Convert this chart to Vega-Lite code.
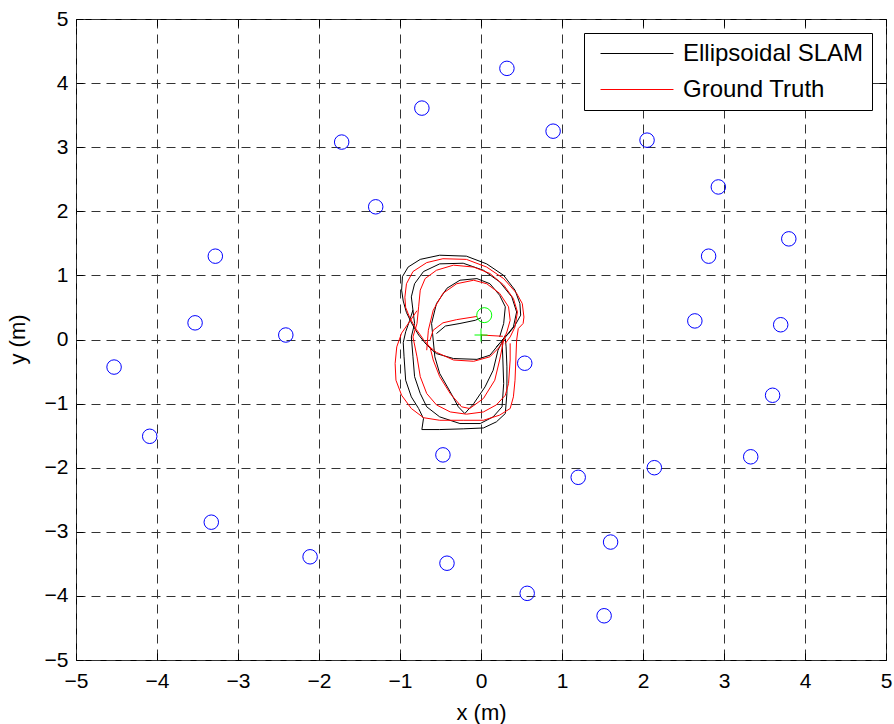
{
  "$schema": "https://vega.github.io/schema/vega-lite/v6.json",
  "width": 810,
  "height": 641,
  "autosize": {"type": "none"},
  "padding": {"left": 76, "top": 19, "right": 8, "bottom": 64},
  "background": "white",
  "config": {
    "view": {"stroke": "#000000", "strokeWidth": 1},
    "font": "Liberation Sans"
  },
  "datasets": {
    "traj": [
      {"s":"Ellipsoidal SLAM","g":"b1","i":0,"x":-0.60,"y":-0.17},
      {"s":"Ellipsoidal SLAM","g":"b1","i":1,"x":-0.68,"y":-0.07},
      {"s":"Ellipsoidal SLAM","g":"b1","i":2,"x":-0.77,"y":0.07},
      {"s":"Ellipsoidal SLAM","g":"b1","i":3,"x":-0.85,"y":0.24},
      {"s":"Ellipsoidal SLAM","g":"b1","i":4,"x":-0.92,"y":0.42},
      {"s":"Ellipsoidal SLAM","g":"b1","i":5,"x":-0.96,"y":0.60},
      {"s":"Ellipsoidal SLAM","g":"b1","i":6,"x":-0.98,"y":0.77},
      {"s":"Ellipsoidal SLAM","g":"b1","i":7,"x":-0.97,"y":0.98},
      {"s":"Ellipsoidal SLAM","g":"b1","i":8,"x":-0.90,"y":1.13},
      {"s":"Ellipsoidal SLAM","g":"b1","i":9,"x":-0.75,"y":1.25},
      {"s":"Ellipsoidal SLAM","g":"b1","i":10,"x":-0.51,"y":1.315},
      {"s":"Ellipsoidal SLAM","g":"b1","i":11,"x":-0.18,"y":1.30},
      {"s":"Ellipsoidal SLAM","g":"b1","i":12,"x":0.07,"y":1.18},
      {"s":"Ellipsoidal SLAM","g":"b1","i":13,"x":0.28,"y":1.00},
      {"s":"Ellipsoidal SLAM","g":"b1","i":14,"x":0.42,"y":0.77},
      {"s":"Ellipsoidal SLAM","g":"b1","i":15,"x":0.48,"y":0.56},
      {"s":"Ellipsoidal SLAM","g":"b1","i":16,"x":0.49,"y":0.38},
      {"s":"Ellipsoidal SLAM","g":"b1","i":17,"x":0.42,"y":0.22},
      {"s":"Ellipsoidal SLAM","g":"b1","i":18,"x":0.34,"y":0.09},
      {"s":"Ellipsoidal SLAM","g":"b1","i":19,"x":0.26,"y":-0.01},
      {"s":"Ellipsoidal SLAM","g":"b2","i":0,"x":-0.84,"y":0.46},
      {"s":"Ellipsoidal SLAM","g":"b2","i":1,"x":-0.88,"y":0.30},
      {"s":"Ellipsoidal SLAM","g":"b2","i":2,"x":-0.93,"y":0.12},
      {"s":"Ellipsoidal SLAM","g":"b2","i":3,"x":-0.96,"y":-0.05},
      {"s":"Ellipsoidal SLAM","g":"b2","i":4,"x":-0.95,"y":-0.27},
      {"s":"Ellipsoidal SLAM","g":"b2","i":5,"x":-0.93,"y":-0.635},
      {"s":"Ellipsoidal SLAM","g":"b2","i":6,"x":-0.86,"y":-0.895},
      {"s":"Ellipsoidal SLAM","g":"b2","i":7,"x":-0.77,"y":-1.077},
      {"s":"Ellipsoidal SLAM","g":"b2","i":8,"x":-0.71,"y":-1.233},
      {"s":"Ellipsoidal SLAM","g":"b2","i":9,"x":-0.73,"y":-1.405},
      {"s":"Ellipsoidal SLAM","g":"b2","i":10,"x":-0.51,"y":-1.405},
      {"s":"Ellipsoidal SLAM","g":"b2","i":11,"x":-0.22,"y":-1.394},
      {"s":"Ellipsoidal SLAM","g":"b2","i":12,"x":0.03,"y":-1.38},
      {"s":"Ellipsoidal SLAM","g":"b2","i":13,"x":0.19,"y":-1.285},
      {"s":"Ellipsoidal SLAM","g":"b2","i":14,"x":0.30,"y":-1.155},
      {"s":"Ellipsoidal SLAM","g":"b2","i":15,"x":0.32,"y":-0.843},
      {"s":"Ellipsoidal SLAM","g":"b2","i":16,"x":0.32,"y":-0.427},
      {"s":"Ellipsoidal SLAM","g":"b2","i":17,"x":0.31,"y":-0.115},
      {"s":"Ellipsoidal SLAM","g":"b2","i":18,"x":0.30,"y":0.015},
      {"s":"Ellipsoidal SLAM","g":"b3","i":0,"x":-0.86,"y":0.04},
      {"s":"Ellipsoidal SLAM","g":"b3","i":1,"x":-0.82,"y":0.25},
      {"s":"Ellipsoidal SLAM","g":"b3","i":2,"x":-0.84,"y":0.457},
      {"s":"Ellipsoidal SLAM","g":"b3","i":3,"x":-0.86,"y":0.665},
      {"s":"Ellipsoidal SLAM","g":"b3","i":4,"x":-0.82,"y":0.87},
      {"s":"Ellipsoidal SLAM","g":"b3","i":5,"x":-0.71,"y":1.06},
      {"s":"Ellipsoidal SLAM","g":"b3","i":6,"x":-0.51,"y":1.18},
      {"s":"Ellipsoidal SLAM","g":"b3","i":7,"x":-0.22,"y":1.19},
      {"s":"Ellipsoidal SLAM","g":"b3","i":8,"x":0.03,"y":1.08},
      {"s":"Ellipsoidal SLAM","g":"b3","i":9,"x":0.23,"y":0.90},
      {"s":"Ellipsoidal SLAM","g":"b3","i":10,"x":0.38,"y":0.665},
      {"s":"Ellipsoidal SLAM","g":"b3","i":11,"x":0.44,"y":0.43},
      {"s":"Ellipsoidal SLAM","g":"b3","i":12,"x":0.40,"y":0.197},
      {"s":"Ellipsoidal SLAM","g":"b3","i":13,"x":0.30,"y":0.04},
      {"s":"Ellipsoidal SLAM","g":"b3","i":14,"x":0.19,"y":-0.115},
      {"s":"Ellipsoidal SLAM","g":"b4","i":0,"x":-0.86,"y":0.04},
      {"s":"Ellipsoidal SLAM","g":"b4","i":1,"x":-0.84,"y":-0.27},
      {"s":"Ellipsoidal SLAM","g":"b4","i":2,"x":-0.82,"y":-0.58},
      {"s":"Ellipsoidal SLAM","g":"b4","i":3,"x":-0.75,"y":-0.843},
      {"s":"Ellipsoidal SLAM","g":"b4","i":4,"x":-0.67,"y":-1.05},
      {"s":"Ellipsoidal SLAM","g":"b4","i":5,"x":-0.51,"y":-1.207},
      {"s":"Ellipsoidal SLAM","g":"b4","i":6,"x":-0.26,"y":-1.311},
      {"s":"Ellipsoidal SLAM","g":"b4","i":7,"x":-0.01,"y":-1.311},
      {"s":"Ellipsoidal SLAM","g":"b4","i":8,"x":0.15,"y":-1.207},
      {"s":"Ellipsoidal SLAM","g":"b4","i":9,"x":0.26,"y":-1.05},
      {"s":"Ellipsoidal SLAM","g":"b4","i":10,"x":0.28,"y":-0.687},
      {"s":"Ellipsoidal SLAM","g":"b4","i":11,"x":0.27,"y":-0.32},
      {"s":"Ellipsoidal SLAM","g":"b4","i":12,"x":0.26,"y":-0.01},
      {"s":"Ellipsoidal SLAM","g":"b5","i":0,"x":-0.59,"y":-0.01},
      {"s":"Ellipsoidal SLAM","g":"b5","i":1,"x":-0.61,"y":0.25},
      {"s":"Ellipsoidal SLAM","g":"b5","i":2,"x":-0.55,"y":0.56},
      {"s":"Ellipsoidal SLAM","g":"b5","i":3,"x":-0.42,"y":0.80},
      {"s":"Ellipsoidal SLAM","g":"b5","i":4,"x":-0.26,"y":0.925},
      {"s":"Ellipsoidal SLAM","g":"b5","i":5,"x":-0.05,"y":0.95},
      {"s":"Ellipsoidal SLAM","g":"b5","i":6,"x":0.11,"y":0.87},
      {"s":"Ellipsoidal SLAM","g":"b5","i":7,"x":0.23,"y":0.69},
      {"s":"Ellipsoidal SLAM","g":"b5","i":8,"x":0.30,"y":0.51},
      {"s":"Ellipsoidal SLAM","g":"b5","i":9,"x":0.28,"y":0.25},
      {"s":"Ellipsoidal SLAM","g":"b5","i":10,"x":0.23,"y":0.04},
      {"s":"Ellipsoidal SLAM","g":"b6","i":0,"x":0.30,"y":0.067},
      {"s":"Ellipsoidal SLAM","g":"b6","i":1,"x":0.21,"y":-0.167},
      {"s":"Ellipsoidal SLAM","g":"b6","i":2,"x":0.15,"y":-0.48},
      {"s":"Ellipsoidal SLAM","g":"b6","i":3,"x":0.05,"y":-0.739},
      {"s":"Ellipsoidal SLAM","g":"b6","i":4,"x":-0.09,"y":-1.0},
      {"s":"Ellipsoidal SLAM","g":"b6","i":5,"x":-0.20,"y":-1.155},
      {"s":"Ellipsoidal SLAM","g":"b6","i":6,"x":-0.28,"y":-1.05},
      {"s":"Ellipsoidal SLAM","g":"b6","i":7,"x":-0.38,"y":-0.817},
      {"s":"Ellipsoidal SLAM","g":"b6","i":8,"x":-0.51,"y":-0.53},
      {"s":"Ellipsoidal SLAM","g":"b6","i":9,"x":-0.57,"y":-0.27},
      {"s":"Ellipsoidal SLAM","g":"b6","i":10,"x":-0.59,"y":-0.01},
      {"s":"Ellipsoidal SLAM","g":"b7","i":0,"x":-0.60,"y":-0.17},
      {"s":"Ellipsoidal SLAM","g":"b7","i":1,"x":-0.55,"y":-0.22},
      {"s":"Ellipsoidal SLAM","g":"b7","i":2,"x":-0.34,"y":-0.297},
      {"s":"Ellipsoidal SLAM","g":"b7","i":3,"x":-0.05,"y":-0.31},
      {"s":"Ellipsoidal SLAM","g":"b7","i":4,"x":0.11,"y":-0.245},
      {"s":"Ellipsoidal SLAM","g":"b7","i":5,"x":0.23,"y":-0.06},
      {"s":"Ellipsoidal SLAM","g":"b8","i":0,"x":-0.55,"y":0.093},
      {"s":"Ellipsoidal SLAM","g":"b8","i":1,"x":-0.44,"y":0.21},
      {"s":"Ellipsoidal SLAM","g":"b8","i":2,"x":-0.26,"y":0.25},
      {"s":"Ellipsoidal SLAM","g":"b8","i":3,"x":-0.07,"y":0.30},
      {"s":"Ellipsoidal SLAM","g":"b8","i":4,"x":0.0,"y":0.34},
      {"s":"Ground Truth","g":"r1","i":0,"x":-0.63,"y":-0.12},
      {"s":"Ground Truth","g":"r1","i":1,"x":-0.71,"y":0.0},
      {"s":"Ground Truth","g":"r1","i":2,"x":-0.80,"y":0.16},
      {"s":"Ground Truth","g":"r1","i":3,"x":-0.88,"y":0.34},
      {"s":"Ground Truth","g":"r1","i":4,"x":-0.93,"y":0.50},
      {"s":"Ground Truth","g":"r1","i":5,"x":-0.94,"y":0.66},
      {"s":"Ground Truth","g":"r1","i":6,"x":-0.92,"y":0.87},
      {"s":"Ground Truth","g":"r1","i":7,"x":-0.84,"y":1.06},
      {"s":"Ground Truth","g":"r1","i":8,"x":-0.67,"y":1.20},
      {"s":"Ground Truth","g":"r1","i":9,"x":-0.47,"y":1.26},
      {"s":"Ground Truth","g":"r1","i":10,"x":-0.18,"y":1.25},
      {"s":"Ground Truth","g":"r1","i":11,"x":0.07,"y":1.13},
      {"s":"Ground Truth","g":"r1","i":12,"x":0.28,"y":0.95},
      {"s":"Ground Truth","g":"r1","i":13,"x":0.44,"y":0.72},
      {"s":"Ground Truth","g":"r1","i":14,"x":0.51,"y":0.56},
      {"s":"Ground Truth","g":"r1","i":15,"x":0.53,"y":0.35},
      {"s":"Ground Truth","g":"r1","i":16,"x":0.52,"y":0.25},
      {"s":"Ground Truth","g":"r1","i":17,"x":0.46,"y":0.17},
      {"s":"Ground Truth","g":"r1","i":18,"x":0.44,"y":-0.01},
      {"s":"Ground Truth","g":"r2","i":0,"x":-0.79,"y":0.45},
      {"s":"Ground Truth","g":"r2","i":1,"x":-0.87,"y":0.30},
      {"s":"Ground Truth","g":"r2","i":2,"x":-0.98,"y":0.10},
      {"s":"Ground Truth","g":"r2","i":3,"x":-1.04,"y":-0.115},
      {"s":"Ground Truth","g":"r2","i":4,"x":-1.06,"y":-0.375},
      {"s":"Ground Truth","g":"r2","i":5,"x":-1.05,"y":-0.635},
      {"s":"Ground Truth","g":"r2","i":6,"x":-0.98,"y":-0.87},
      {"s":"Ground Truth","g":"r2","i":7,"x":-0.86,"y":-1.077},
      {"s":"Ground Truth","g":"r2","i":8,"x":-0.71,"y":-1.22},
      {"s":"Ground Truth","g":"r2","i":9,"x":-0.51,"y":-1.26},
      {"s":"Ground Truth","g":"r2","i":10,"x":-0.22,"y":-1.26},
      {"s":"Ground Truth","g":"r2","i":11,"x":0.03,"y":-1.26},
      {"s":"Ground Truth","g":"r2","i":12,"x":0.23,"y":-1.18},
      {"s":"Ground Truth","g":"r2","i":13,"x":0.36,"y":-1.077},
      {"s":"Ground Truth","g":"r2","i":14,"x":0.40,"y":-0.895},
      {"s":"Ground Truth","g":"r2","i":15,"x":0.42,"y":-0.635},
      {"s":"Ground Truth","g":"r2","i":16,"x":0.43,"y":-0.32},
      {"s":"Ground Truth","g":"r2","i":17,"x":0.44,"y":-0.01},
      {"s":"Ground Truth","g":"r3","i":0,"x":-0.84,"y":0.04},
      {"s":"Ground Truth","g":"r3","i":1,"x":-0.79,"y":0.25},
      {"s":"Ground Truth","g":"r3","i":2,"x":-0.77,"y":0.51},
      {"s":"Ground Truth","g":"r3","i":3,"x":-0.75,"y":0.77},
      {"s":"Ground Truth","g":"r3","i":4,"x":-0.69,"y":0.95},
      {"s":"Ground Truth","g":"r3","i":5,"x":-0.55,"y":1.08},
      {"s":"Ground Truth","g":"r3","i":6,"x":-0.34,"y":1.16},
      {"s":"Ground Truth","g":"r3","i":7,"x":-0.09,"y":1.13},
      {"s":"Ground Truth","g":"r3","i":8,"x":0.11,"y":1.03},
      {"s":"Ground Truth","g":"r3","i":9,"x":0.28,"y":0.85},
      {"s":"Ground Truth","g":"r3","i":10,"x":0.40,"y":0.64},
      {"s":"Ground Truth","g":"r3","i":11,"x":0.45,"y":0.43},
      {"s":"Ground Truth","g":"r3","i":12,"x":0.42,"y":0.197},
      {"s":"Ground Truth","g":"r3","i":13,"x":0.36,"y":0.04},
      {"s":"Ground Truth","g":"r3","i":14,"x":0.30,"y":-0.06},
      {"s":"Ground Truth","g":"r4","i":0,"x":-0.84,"y":0.04},
      {"s":"Ground Truth","g":"r4","i":1,"x":-0.79,"y":-0.27},
      {"s":"Ground Truth","g":"r4","i":2,"x":-0.75,"y":-0.58},
      {"s":"Ground Truth","g":"r4","i":3,"x":-0.67,"y":-0.843},
      {"s":"Ground Truth","g":"r4","i":4,"x":-0.55,"y":-1.02},
      {"s":"Ground Truth","g":"r4","i":5,"x":-0.38,"y":-1.13},
      {"s":"Ground Truth","g":"r4","i":6,"x":-0.18,"y":-1.165},
      {"s":"Ground Truth","g":"r4","i":7,"x":0.03,"y":-1.13},
      {"s":"Ground Truth","g":"r4","i":8,"x":0.19,"y":-1.02},
      {"s":"Ground Truth","g":"r4","i":9,"x":0.30,"y":-0.87},
      {"s":"Ground Truth","g":"r4","i":10,"x":0.34,"y":-0.687},
      {"s":"Ground Truth","g":"r4","i":11,"x":0.36,"y":-0.32},
      {"s":"Ground Truth","g":"r4","i":12,"x":0.36,"y":-0.06},
      {"s":"Ground Truth","g":"r5","i":0,"x":-0.67,"y":-0.167},
      {"s":"Ground Truth","g":"r5","i":1,"x":-0.65,"y":0.145},
      {"s":"Ground Truth","g":"r5","i":2,"x":-0.59,"y":0.457},
      {"s":"Ground Truth","g":"r5","i":3,"x":-0.47,"y":0.72},
      {"s":"Ground Truth","g":"r5","i":4,"x":-0.30,"y":0.87},
      {"s":"Ground Truth","g":"r5","i":5,"x":-0.09,"y":0.925},
      {"s":"Ground Truth","g":"r5","i":6,"x":0.07,"y":0.87},
      {"s":"Ground Truth","g":"r5","i":7,"x":0.23,"y":0.72},
      {"s":"Ground Truth","g":"r5","i":8,"x":0.34,"y":0.51},
      {"s":"Ground Truth","g":"r5","i":9,"x":0.36,"y":0.30},
      {"s":"Ground Truth","g":"r5","i":10,"x":0.32,"y":0.12},
      {"s":"Ground Truth","g":"r5","i":11,"x":0.28,"y":-0.01},
      {"s":"Ground Truth","g":"r6","i":0,"x":0.28,"y":-0.01},
      {"s":"Ground Truth","g":"r6","i":1,"x":0.23,"y":-0.32},
      {"s":"Ground Truth","g":"r6","i":2,"x":0.17,"y":-0.635},
      {"s":"Ground Truth","g":"r6","i":3,"x":0.03,"y":-0.92},
      {"s":"Ground Truth","g":"r6","i":4,"x":-0.14,"y":-1.077},
      {"s":"Ground Truth","g":"r6","i":5,"x":-0.24,"y":-1.05},
      {"s":"Ground Truth","g":"r6","i":6,"x":-0.38,"y":-0.843},
      {"s":"Ground Truth","g":"r6","i":7,"x":-0.51,"y":-0.58},
      {"s":"Ground Truth","g":"r6","i":8,"x":-0.59,"y":-0.32},
      {"s":"Ground Truth","g":"r6","i":9,"x":-0.63,"y":-0.115},
      {"s":"Ground Truth","g":"r7","i":0,"x":-0.63,"y":-0.12},
      {"s":"Ground Truth","g":"r7","i":1,"x":-0.55,"y":-0.20},
      {"s":"Ground Truth","g":"r7","i":2,"x":-0.34,"y":-0.32},
      {"s":"Ground Truth","g":"r7","i":3,"x":-0.09,"y":-0.34},
      {"s":"Ground Truth","g":"r7","i":4,"x":0.11,"y":-0.27},
      {"s":"Ground Truth","g":"r7","i":5,"x":0.23,"y":-0.115},
      {"s":"Ground Truth","g":"r7","i":6,"x":0.30,"y":0.04},
      {"s":"Ground Truth","g":"r8","i":0,"x":-0.63,"y":-0.01},
      {"s":"Ground Truth","g":"r8","i":1,"x":-0.59,"y":0.145},
      {"s":"Ground Truth","g":"r8","i":2,"x":-0.47,"y":0.26},
      {"s":"Ground Truth","g":"r8","i":3,"x":-0.30,"y":0.31},
      {"s":"Ground Truth","g":"r8","i":4,"x":-0.05,"y":0.36},
      {"s":"Ground Truth","g":"r9","i":0,"x":0.0,"y":0.07},
      {"s":"Ground Truth","g":"r9","i":1,"x":0.27,"y":0.05}
    ],
    "lm": [
      {"x":0.32,"y":4.23},{"x":-0.73,"y":3.61},{"x":0.89,"y":3.25},{"x":-1.72,"y":3.08},
      {"x":2.05,"y":3.11},{"x":2.93,"y":2.38},{"x":-1.30,"y":2.07},{"x":3.80,"y":1.57},
      {"x":-3.28,"y":1.30},{"x":2.81,"y":1.30},{"x":-3.53,"y":0.26},{"x":-2.41,"y":0.07},
      {"x":2.64,"y":0.29},{"x":3.70,"y":0.23},{"x":-4.53,"y":-0.43},{"x":0.54,"y":-0.37},
      {"x":3.60,"y":-0.87},{"x":-4.09,"y":-1.51},{"x":-0.47,"y":-1.80},{"x":3.33,"y":-1.83},
      {"x":2.14,"y":-2.00},{"x":1.20,"y":-2.15},{"x":-3.33,"y":-2.85},{"x":1.60,"y":-3.16},
      {"x":-2.11,"y":-3.39},{"x":-0.42,"y":-3.49},{"x":0.57,"y":-3.96},{"x":1.52,"y":-4.31}
    ],
    "endpos": [{"x":0.04,"y":0.38}],
    "startpos": [{"x":0.0,"y":0.07}]
  },
  "layer": [
    {
      "data": {"name": "traj"},
      "mark": {"type": "line", "strokeWidth": 1, "clip": true},
      "encoding": {
        "x": {
          "field": "x", "type": "quantitative",
          "scale": {"domain": [-5, 5], "nice": false, "zero": false},
          "axis": {
            "orient": "bottom", "values": [-5,-4,-3,-2,-1,0,1,2,3,4,5],
            "format": "d", "grid": true, "gridColor": "#333333", "gridDash": [9, 6], "gridOpacity": 1, "gridWidth": 1,
            "domain": false, "ticks": true, "tickSize": -7, "tickColor": "#000000", "tickWidth": 1,
            "labelFont": "Liberation Sans", "labelFontSize": 21, "labelColor": "#000000", "labelPadding": 17,
            "labelBaseline": "top", "labelFlush": false, "labelOverlap": false,
            "title": "x (m)", "titleFont": "Liberation Sans", "titleFontSize": 22, "titleFontWeight": "normal",
            "titleColor": "#000000", "titleBaseline": "middle", "titleY": 52, "titleX": 405
          }
        },
        "y": {
          "field": "y", "type": "quantitative",
          "scale": {"domain": [-5, 5], "nice": false, "zero": false},
          "axis": {
            "orient": "left", "values": [-5,-4,-3,-2,-1,0,1,2,3,4,5],
            "format": "d", "grid": true, "gridColor": "#333333", "gridDash": [9, 6], "gridOpacity": 1, "gridWidth": 1,
            "domain": false, "ticks": true, "tickSize": -7, "tickColor": "#000000", "tickWidth": 1,
            "labelFont": "Liberation Sans", "labelFontSize": 21, "labelColor": "#000000", "labelPadding": 15,
            "labelFlush": false, "labelOverlap": false,
            "title": "y (m)", "titleFont": "Liberation Sans", "titleFontSize": 22, "titleFontWeight": "normal",
            "titleColor": "#000000", "titleBaseline": "middle", "titleAlign": "center", "titleAngle": -90,
            "titleX": -59, "titleY": 320
          }
        },
        "color": {
          "field": "s", "type": "nominal",
          "scale": {"domain": ["Ellipsoidal SLAM", "Ground Truth"], "range": ["#000000", "#ff0000"]},
          "legend": {
            "orient": "none", "legendX": 508, "legendY": 14, "title": null,
            "symbolType": "M-3.04,0L3.04,0", "symbolSize": 576, "symbolStrokeWidth": 1,
            "labelFont": "Liberation Sans", "labelFontSize": 24, "labelColor": "#000000", "labelOffset": 33.5,
            "labelLimit": 400,
            "padding": 8, "symbolOffset": 32.5, "rowPadding": 11,
            "strokeColor": "#000000", "fillColor": "#ffffff", "cornerRadius": 0
          }
        },
        "detail": {"field": "g"},
        "order": {"field": "i", "type": "quantitative"}
      }
    },
    {
      "data": {"name": "lm"},
      "mark": {"type": "point", "shape": "circle", "filled": false, "color": "#0000ff", "size": 210, "strokeWidth": 1, "opacity": 1},
      "encoding": {
        "x": {
          "field": "x", "type": "quantitative",
          "axis": {"orient": "top", "values": [-5,-4,-3,-2,-1,0,1,2,3,4,5], "labels": false, "grid": false,
                   "domain": false, "ticks": true, "tickSize": -7, "tickColor": "#000000", "title": null}
        },
        "y": {
          "field": "y", "type": "quantitative",
          "axis": {"orient": "right", "values": [-5,-4,-3,-2,-1,0,1,2,3,4,5], "labels": false, "grid": false,
                   "domain": false, "ticks": true, "tickSize": -7, "tickColor": "#000000", "title": null}
        }
      }
    },
    {
      "data": {"name": "endpos"},
      "mark": {"type": "point", "shape": "circle", "filled": false, "color": "#00ff00", "size": 225, "strokeWidth": 1, "opacity": 1},
      "encoding": {
        "x": {"field": "x", "type": "quantitative", "axis": null},
        "y": {"field": "y", "type": "quantitative", "axis": null}
      }
    },
    {
      "data": {"name": "startpos"},
      "mark": {"type": "point", "shape": "M-1,0L1,0M0,-1L0,1", "filled": false, "color": "#00ff00", "size": 169, "strokeWidth": 1, "opacity": 1},
      "encoding": {
        "x": {"field": "x", "type": "quantitative", "axis": null},
        "y": {"field": "y", "type": "quantitative", "axis": null}
      }
    }
  ],
  "resolve": {"axis": {"x": "independent", "y": "independent"}}
}
